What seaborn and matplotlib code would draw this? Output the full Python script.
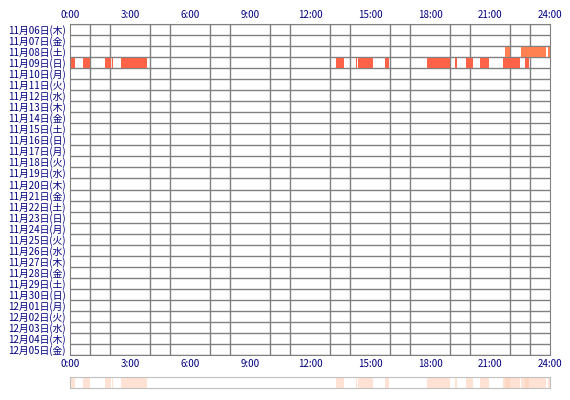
import matplotlib
matplotlib.use("Agg")
import matplotlib.pyplot as plt
import seaborn as sns

sns.set_style("white")
plt.rcParams["font.family"] = ["Noto Sans CJK JP", "DejaVu Sans"]

days = ["11月06日(木)", "11月07日(金)", "11月08日(土)", "11月09日(日)", "11月10日(月)",
        "11月11日(火)", "11月12日(水)", "11月13日(木)", "11月14日(金)", "11月15日(土)",
        "11月16日(日)", "11月17日(月)", "11月18日(火)", "11月19日(水)", "11月20日(木)",
        "11月21日(金)", "11月22日(土)", "11月23日(日)", "11月24日(月)", "11月25日(火)",
        "11月26日(水)", "11月27日(木)", "11月28日(金)", "11月29日(土)", "11月30日(日)",
        "12月01日(月)", "12月02日(火)", "12月03日(水)", "12月04日(木)", "12月05日(金)"]
hour_labels = ["0:00", "3:00", "6:00", "9:00", "12:00", "15:00", "18:00", "21:00", "24:00"]

# active periods in hours (start, end)
nov08 = [(21.75, 22.0), (22.55, 23.8), (23.9, 24.0)]
nov09 = [(0.05, 0.25), (0.65, 1.0), (1.75, 2.05), (2.1, 2.13), (2.55, 3.85),
         (13.3, 13.7), (14.3, 14.35), (14.4, 15.15), (15.75, 15.95),
         (17.85, 19.0), (19.25, 19.35), (19.8, 20.15), (20.5, 20.95),
         (21.65, 22.5), (22.75, 22.95)]
activity = {"11月08日(土)": (nov08, "#ff8050"), "11月09日(日)": (nov09, "#ff6347")}

W, H = 570, 400
fig = plt.figure(figsize=(5.7, 4.0), dpi=100)
ax = fig.add_axes([70 / W, 1 - 355 / H, 480 / W, 331 / H])
strip = fig.add_axes([70 / W, 1 - 388 / H, 480 / W, 11 / H])

n = len(days)
for i, d in enumerate(days):
    if d in activity:
        segs, col = activity[d]
        ax.broken_barh([(s, e - s) for s, e in segs], (i + 0.05, 0.9), color=col, lw=0)
ax.set_xlim(0, 24)
ax.set_ylim(n, 0)
ax.set_xticks(range(0, 25), minor=True)
ax.set_xticks(range(0, 25, 3))
ax.set_xticklabels(hour_labels)
ax.set_yticks([i + 0.5 for i in range(n)])
ax.set_yticklabels(days)
ax.set_yticks(range(n + 1), minor=True)
ax.grid(True, which="minor", color="#808080", lw=1)
ax.tick_params(which="both", length=0, labelsize=7, labelcolor="#000080", pad=3)
ax.tick_params(axis="x", top=True, labeltop=True)
for s in ax.spines.values():
    s.set_color("#808080")

for segs in (nov08, nov09):
    strip.broken_barh([(s, e - s) for s, e in segs], (0, 1), color="#ffd0b8", alpha=0.6, lw=0)
strip.set_xlim(0, 24)
strip.set_ylim(0, 1)
strip.set_xticks([])
strip.set_yticks([])
for s in strip.spines.values():
    s.set_color("#c0c0c0")

fig.savefig("out.png", dpi=100)
